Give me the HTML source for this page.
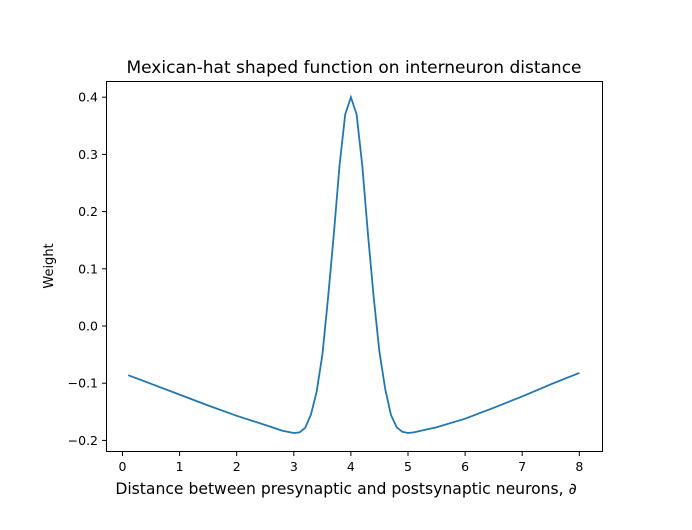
<!DOCTYPE html>
<html><head><meta charset="utf-8"><style>
body{margin:0;background:#fff;}
svg text{font-family:"DejaVu Sans","Liberation Sans",sans-serif;fill:#000;}
</style></head><body>
<svg id="chart" width="692" height="525" viewBox="0 0 692 525">
<rect x="0" y="0" width="692" height="525" fill="#fff"/>
<text x="354" y="73" font-size="17" text-anchor="middle">Mexican-hat shaped function on interneuron distance</text>
<g id="xticks"></g>
<g id="yticks"></g>
<path id="line" fill="none" stroke="#1f77b4" stroke-width="1.8"/>
<rect x="106.5" y="81.5" width="496" height="370" fill="none" stroke="#000" stroke-width="1"/>
<text x="346" y="494" font-size="15.6" text-anchor="middle">Distance between presynaptic and postsynaptic neurons, ∂</text>
<text x="0" y="0" font-size="13" text-anchor="middle" transform="translate(53,266) rotate(-90)">Weight</text>
</svg>
<script>
const xs=[0.1,0.5,1,1.5,2,2.5,2.8,3.0,3.1,3.2,3.3,3.4,3.5,3.6,3.7,3.8,3.9,4.0,4.1,4.2,4.3,4.4,4.5,4.6,4.7,4.8,4.9,5.0,5.1,5.5,6,6.5,7,7.5,8];
const ys=[-0.086,-0.101,-0.120,-0.139,-0.157,-0.173,-0.183,-0.187,-0.186,-0.178,-0.155,-0.115,-0.05,0.05,0.16,0.28,0.37,0.40,0.37,0.28,0.16,0.05,-0.045,-0.11,-0.155,-0.177,-0.185,-0.187,-0.186,-0.177,-0.162,-0.143,-0.123,-0.102,-0.082];
const xTicks=[0,1,2,3,4,5,6,7,8];
const yTicks=[-0.2,-0.1,0.0,0.1,0.2,0.3,0.4];
const yTickLabels=["−0.2","−0.1","0.0","0.1","0.2","0.3","0.4"];
const NS="http://www.w3.org/2000/svg";
function sx(v){return 122.5+v*57.1;}
function sy(v){return 326-v*572;}
const gx=document.getElementById('xticks'),gy=document.getElementById('yticks');
xTicks.forEach(t=>{
 const l=document.createElementNS(NS,'line');
 
 
 l.setAttribute('x1',sx(t));l.setAttribute('x2',sx(t));l.setAttribute('y1',451.5);l.setAttribute('y2',456);l.setAttribute('stroke','#000');
 gx.appendChild(l);
 const tx=document.createElementNS(NS,'text');
 
 
 tx.setAttribute('x',sx(t));tx.setAttribute('y',471);tx.setAttribute('font-size','12.5');tx.setAttribute('text-anchor','middle');
 tx.textContent=t;gx.appendChild(tx);
});
yTicks.forEach((t,i)=>{
 const l=document.createElementNS(NS,'line');
 
 
 l.setAttribute('x1',102);l.setAttribute('x2',106.5);l.setAttribute('y1',sy(t));l.setAttribute('y2',sy(t));l.setAttribute('stroke','#000');
 gy.appendChild(l);
 const tx=document.createElementNS(NS,'text');
 
 
 tx.setAttribute('x',98);tx.setAttribute('y',sy(t)+4.5);tx.setAttribute('font-size','12.5');tx.setAttribute('text-anchor','end');
 tx.textContent=yTickLabels[i];gy.appendChild(tx);
});
document.getElementById('line').setAttribute('d',xs.map((x,i)=>(i?'L':'M')+sx(x).toFixed(1)+','+sy(ys[i]).toFixed(1)).join(' '));
</script>
</body></html>
